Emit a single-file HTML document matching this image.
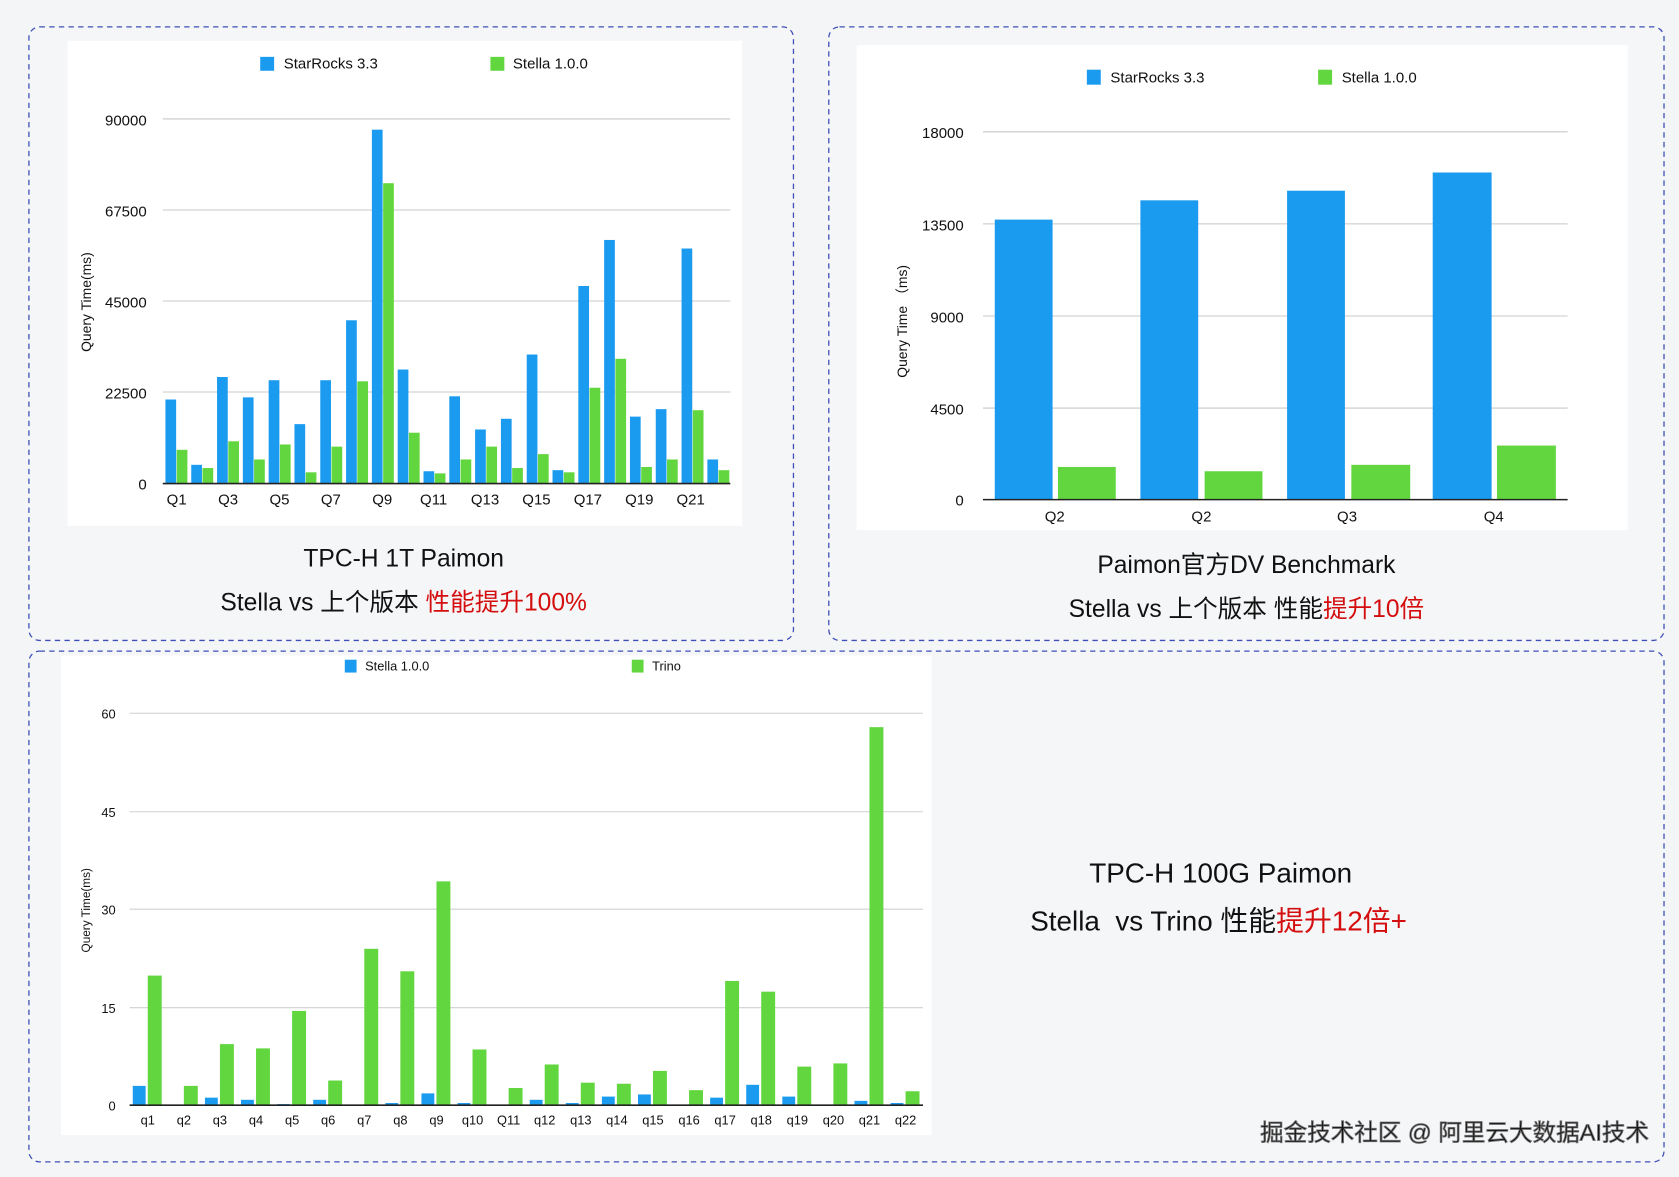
<!DOCTYPE html>
<html><head><meta charset="utf-8"><style>
html,body{margin:0;padding:0;background:#f4f5f7;}
svg{display:block}
text{font-family:"Liberation Sans","Noto Sans CJK SC",sans-serif;fill:#111}
.t{font-family:"Liberation Sans","Noto Sans CJK SC",sans-serif}
</style></head><body>
<svg id="s" width="1679" height="1177" viewBox="0 0 1568 1099" xmlns="http://www.w3.org/2000/svg">
<rect x="0" y="0" width="1568" height="1099" fill="#f4f5f7"/>
<!-- panels -->
<rect x="27" y="25" width="714" height="573" rx="10" fill="#f5f6f8" stroke="#3f4fb5" stroke-dasharray="5,4" stroke-width="1.2"/>
<rect x="774" y="25" width="780" height="573" rx="10" fill="#f5f6f8" stroke="#3f4fb5" stroke-dasharray="5,4" stroke-width="1.2"/>
<rect x="27" y="608" width="1527" height="477" rx="10" fill="#f5f6f8" stroke="#3f4fb5" stroke-dasharray="5,4" stroke-width="1.2"/>
<rect x="63" y="38" width="630" height="453" fill="#fff"/>
<rect x="800" y="42" width="720" height="453" fill="#fff"/>
<rect x="57" y="612" width="813" height="448" fill="#fff"/>

<!-- chart1 -->
<g stroke="#c8c8c8" stroke-width="1"><line x1="152" y1="111" x2="682" y2="111"/><line x1="152" y1="196" x2="682" y2="196"/><line x1="152" y1="281" x2="682" y2="281"/><line x1="152" y1="366" x2="682" y2="366"/></g>
<g id="c1"></g>
<line x1="152" y1="451.5" x2="682" y2="451.5" stroke="#222" stroke-width="1.5"/>
<g font-size="14" text-anchor="end"><text x="137" y="117">90000</text><text x="137" y="202">67500</text><text x="137" y="287">45000</text><text x="137" y="372">22500</text><text x="137" y="457">0</text></g>
<text x="85" y="282" font-size="13" text-anchor="middle" transform="rotate(-90 85 282)">Query Time(ms)</text>
<rect x="243" y="53" width="13" height="13" fill="#1a9bf0"/><text x="265" y="64" font-size="14">StarRocks 3.3</text>
<rect x="458" y="53" width="13" height="13" fill="#62d63e"/><text x="479" y="64" font-size="14">Stella 1.0.0</text>
<g font-size="14" text-anchor="middle"><text x="165" y="471">Q1</text><text x="213" y="471">Q3</text><text x="261" y="471">Q5</text><text x="309" y="471">Q7</text><text x="357" y="471">Q9</text><text x="405" y="471">Q11</text><text x="453" y="471">Q13</text><text x="501" y="471">Q15</text><text x="549" y="471">Q17</text><text x="597" y="471">Q19</text><text x="645" y="471">Q21</text></g>
<text x="377" y="529" font-size="23" text-anchor="middle">TPC-H 1T Paimon</text>
<text x="377" y="570" font-size="23" text-anchor="middle">Stella vs 上个版本 <tspan fill="#d40e0e">性能提升100%</tspan></text>

<!-- chart2 -->
<g stroke="#c8c8c8"><line x1="918" y1="123" x2="1464" y2="123"/><line x1="918" y1="209" x2="1464" y2="209"/><line x1="918" y1="295" x2="1464" y2="295"/><line x1="918" y1="381" x2="1464" y2="381"/></g>
<g fill="#1a9bf0"><rect x="929" y="205" width="54" height="261"/><rect x="1065" y="187" width="54" height="279"/><rect x="1202" y="178" width="54" height="288"/><rect x="1338" y="161" width="55" height="305"/></g>
<g fill="#62d63e"><rect x="988" y="436" width="54" height="30"/><rect x="1125" y="440" width="54" height="26"/><rect x="1262" y="434" width="55" height="32"/><rect x="1398" y="416" width="55" height="50"/></g>
<line x1="918" y1="466.5" x2="1464" y2="466.5" stroke="#222" stroke-width="1.5"/>
<g font-size="14" text-anchor="end"><text x="900" y="129">18000</text><text x="900" y="215">13500</text><text x="900" y="301">9000</text><text x="900" y="387">4500</text><text x="900" y="472">0</text></g>
<text x="847" y="300" font-size="13" text-anchor="middle" transform="rotate(-90 847 300)">Query Time （ms)</text>
<rect x="1015" y="65" width="13" height="14" fill="#1a9bf0"/><text x="1037" y="77" font-size="14">StarRocks 3.3</text>
<rect x="1231" y="65" width="13" height="14" fill="#62d63e"/><text x="1253" y="77" font-size="14">Stella 1.0.0</text>
<g font-size="14" text-anchor="middle"><text x="985" y="487">Q2</text><text x="1122" y="487">Q2</text><text x="1258" y="487">Q3</text><text x="1395" y="487">Q4</text></g>
<text x="1164" y="535" font-size="23" text-anchor="middle">Paimon官方DV Benchmark</text>
<text x="1164" y="576" font-size="23" text-anchor="middle">Stella vs 上个版本 性能<tspan fill="#d40e0e">提升10倍</tspan></text>

<!-- chart3 -->
<g stroke="#d0d0d0"><line x1="121" y1="666" x2="862" y2="666"/><line x1="121" y1="758" x2="862" y2="758"/><line x1="121" y1="849" x2="862" y2="849"/><line x1="121" y1="941" x2="862" y2="941"/></g>
<g id="c3"></g>
<line x1="121" y1="1032" x2="862" y2="1032" stroke="#222" stroke-width="1.5"/>
<g font-size="12" text-anchor="end"><text x="108" y="671">60</text><text x="108" y="763">45</text><text x="108" y="854">30</text><text x="108" y="946">15</text><text x="108" y="1037">0</text></g>
<text x="84" y="850" font-size="11" text-anchor="middle" transform="rotate(-90 84 850)">Query Time(ms)</text>
<rect x="322" y="616" width="11" height="12" fill="#1a9bf0"/><text x="341" y="626" font-size="12">Stella 1.0.0</text>
<rect x="590" y="616" width="11" height="12" fill="#62d63e"/><text x="609" y="626" font-size="12">Trino</text>
<g id="l3" font-size="12" text-anchor="middle"></g>
<text x="1140" y="824" font-size="26" text-anchor="middle">TPC-H 100G Paimon</text>
<text x="1138" y="869" font-size="26" text-anchor="middle" xml:space="preserve">Stella  vs Trino 性能<tspan fill="#d40e0e">提升12倍+</tspan></text>

<text x="1540" y="1065" font-size="22" text-anchor="end" fill="#fff" stroke="#777" stroke-width="0.8">掘金技术社区 @ 阿里云大数据AI技术</text>
</svg>
<script>
var ns="http://www.w3.org/2000/svg";
function r(g,x,y,w,h,c){var e=document.createElementNS(ns,"rect");e.setAttribute("x",x);e.setAttribute("y",y);e.setAttribute("width",w);e.setAttribute("height",h);e.setAttribute("fill",c);g.appendChild(e);}
var b1=[373,434,352,371,355,396,355,299,121,345,440,370,401,391,331,439,267,224,389,382,232,429];
var g1=[420,437,412,429,415,441,417,356,171,404,442,429,417,437,424,441,362,335,436,429,383,439];
var c1=document.getElementById("c1");
for(var i=0;i<22;i++){var x=154.5+i*24.1;r(c1,x,b1[i],10,451-b1[i],"#1a9bf0");r(c1,x+10.5,g1[i],10,451-g1[i],"#62d63e");}
var b3=[1014,0,1025,1027,1031,1027,0,1030,1021,1030,0,1027,1030,1024,1022,0,1025,1013,1024,0,1028,1030];
var g3=[911,1014,975,979,944,1009,886,907,823,980,1016,994,1011,1012,1000,1018,916,926,996,993,679,1019];
var c3=document.getElementById("c3"),l3=document.getElementById("l3");
var labs=["q1","q2","q3","q4","q5","q6","q7","q8","q9","q10","Q11","q12","q13","q14","q15","q16","q17","q18","q19","q20","q21","q22"];
for(var i=0;i<22;i++){var x=124+i*33.7;if(b3[i])r(c3,x,b3[i],12,1032-b3[i],"#1a9bf0");r(c3,x+14,g3[i],13,1032-g3[i],"#62d63e");
var t=document.createElementNS(ns,"text");t.setAttribute("x",x+14);t.setAttribute("y",1050);t.textContent=labs[i];l3.appendChild(t);}
</script>
</body></html>
